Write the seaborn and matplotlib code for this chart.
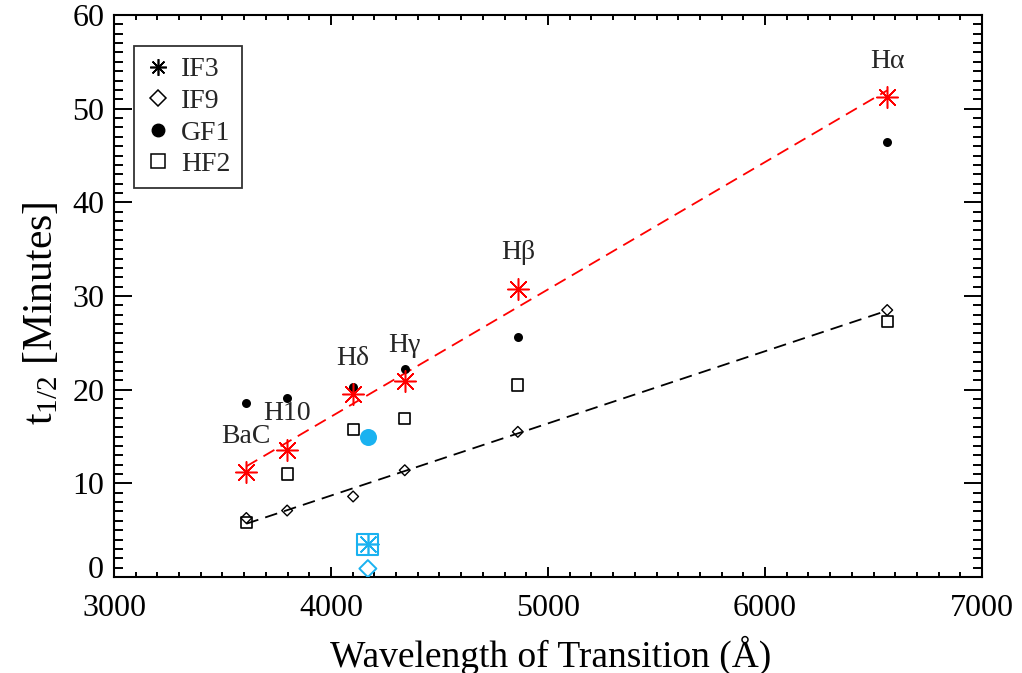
import matplotlib
matplotlib.use("Agg")
import matplotlib.pyplot as plt
import matplotlib.transforms as mtransforms
from matplotlib.lines import Line2D
from matplotlib.ticker import MultipleLocator
import seaborn as sns
import pandas as pd

# Balmer lines and their half-life times for each filter
line_names = ["BaC", "H10", "Hδ", "Hγ", "Hβ", "Hα"]
wavelength = [3610, 3798, 4102, 4340, 4861, 6563]
t_if3 = [11.2, 13.6, 19.5, 20.9, 30.8, 51.2]
t_if9 = [6.3, 7.1, 8.6, 11.4, 15.5, 28.5]
t_gf1 = [18.6, 19.1, 20.3, 22.2, 25.6, 46.4]
t_hf2 = [5.8, 11.0, 15.8, 16.9, 20.5, 27.3]

# Single broad-band measurement
broad_wl = [4170]
broad_if3 = [3.5]
broad_if9 = [0.9]
broad_gf1 = [15.0]
broad_hf2 = [3.5]

df = pd.DataFrame({"wl": wavelength, "IF3": t_if3, "IF9": t_if9,
                   "GF1": t_gf1, "HF2": t_hf2})
bb = pd.DataFrame({"wl": broad_wl, "IF3": broad_if3, "IF9": broad_if9,
                   "GF1": broad_gf1, "HF2": broad_hf2})

sns.set_theme(style="ticks")
plt.rcParams["font.family"] = ["Liberation Serif", "DejaVu Serif"]
plt.rcParams["mathtext.fontset"] = "custom"
plt.rcParams["mathtext.rm"] = "Liberation Serif"
plt.rcParams["mathtext.it"] = "Liberation Serif:italic"

fig = plt.figure(figsize=(10.22, 6.73), dpi=100, facecolor="white")
ax = fig.add_axes([0.1115, 0.1426, 0.8494, 0.8351])

CYAN = "#1ab2f0"
ASTER = (8, 2, 0)
dash = (7, 4)

# Linear fits through the IF3 and IF9 points
sns.regplot(data=df, x="wl", y="IF3", scatter=False, ci=None, ax=ax,
            line_kws=dict(color="red", lw=1.3, dashes=dash))
sns.regplot(data=df, x="wl", y="IF9", scatter=False, ci=None, ax=ax,
            line_kws=dict(color="black", lw=1.3, dashes=dash))

# Line measurements
sns.scatterplot(data=df, x="wl", y="GF1", marker="o", s=42, color="black",
                edgecolor="black", linewidth=0, ax=ax, zorder=3)
sns.scatterplot(data=df, x="wl", y="HF2", marker="s", s=63, facecolor="none",
                edgecolor="black", linewidth=1.2, ax=ax, zorder=3)
sns.scatterplot(data=df, x="wl", y="IF9", marker="D", s=30, facecolor="none",
                edgecolor="black", linewidth=1.0, ax=ax, zorder=3)
sns.scatterplot(data=df, x="wl", y="IF3", marker=ASTER, s=240, color="red",
                edgecolor="red", linewidth=1.1, ax=ax, zorder=4)

# Broad-band measurement
sns.scatterplot(data=bb, x="wl", y="GF1", marker="o", s=150, color=CYAN,
                edgecolor=CYAN, linewidth=0, ax=ax, zorder=3)
sns.scatterplot(data=bb, x="wl", y="HF2", marker="s", s=225, facecolor="none",
                edgecolor=CYAN, linewidth=1.5, ax=ax, zorder=3)
sns.scatterplot(data=bb, x="wl", y="IF3", marker=ASTER, s=225, color=CYAN,
                edgecolor=CYAN, linewidth=1.2, ax=ax, zorder=3)
sns.scatterplot(data=bb, x="wl", y="IF9", marker="D", s=75, facecolor="none",
                edgecolor=CYAN, linewidth=1.4, ax=ax, zorder=3)

# Line identifications above the IF3 points
for name, x, y in zip(line_names, wavelength, t_if3):
    ax.annotate(name, (x, y), xytext=(0, 26), textcoords="offset points",
                ha="center", va="center", fontsize=20)

ax.set_xlim(3000, 7000)
ax.set_ylim(0, 60)
ax.xaxis.set_major_locator(MultipleLocator(1000))
ax.xaxis.set_minor_locator(MultipleLocator(100))
ax.yaxis.set_major_locator(MultipleLocator(10))
ax.yaxis.set_minor_locator(MultipleLocator(1))

for s in ax.spines.values():
    s.set_linewidth(1.5)
    s.set_color("black")

ax.tick_params(axis="both", which="both", direction="in", top=True,
               right=True, width=1.4, color="black", labelsize=23,
               labelcolor="black")
ax.tick_params(axis="x", which="major", length=7, pad=12)
ax.tick_params(axis="x", which="minor", length=3.5)
ax.tick_params(axis="y", which="major", length=13, pad=7)
ax.tick_params(axis="y", which="minor", length=6.5)

ax.set_xlabel("Wavelength of Transition (Å)", fontsize=27, color="black")
ax.set_ylabel(r"t$_{1/2}$ [Minutes]", fontsize=30, color="black")
ax.xaxis.set_label_coords(0.503, -0.139)
ax.xaxis.label.set_va("center")
ax.yaxis.set_label_coords(-0.083, 0.47)
ax.yaxis.label.set_va("center")

handles = [
    Line2D([], [], ls="none", marker=ASTER, color="black", ms=12, mew=1.2),
    Line2D([], [], ls="none", marker="D", mfc="none", mec="black", ms=8, mew=1.1),
    Line2D([], [], ls="none", marker="o", color="black", ms=9),
    Line2D([], [], ls="none", marker="s", mfc="none", mec="black", ms=10, mew=1.1),
]
leg = ax.legend(handles, ["IF3", "IF9", "GF1", "HF2"], loc="upper left",
                bbox_to_anchor=(0.023, 0.945), borderaxespad=0, fontsize=20,
                frameon=True, fancybox=False, handlelength=0.9,
                handletextpad=0.4, labelspacing=0.22, borderpad=0.4)
leg.get_frame().set_edgecolor("black")
leg.get_frame().set_linewidth(1.3)

# Lift the "0" label clear of the x-axis labels
fig.canvas.draw()
shift = mtransforms.ScaledTranslation(0, 0.1, fig.dpi_scale_trans)
for t in ax.yaxis.get_major_ticks():
    if abs(t.get_loc()) < 1e-9:
        t.label1.set_transform(t.label1.get_transform() + shift)

fig.savefig("out.png", dpi=100, facecolor="white")
